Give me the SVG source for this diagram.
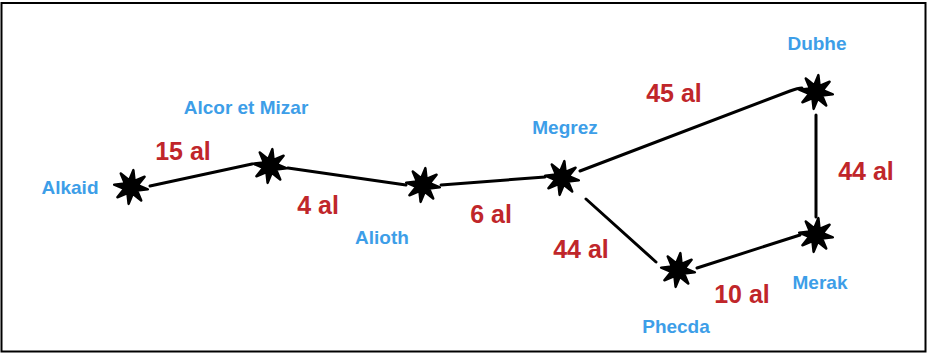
<svg xmlns="http://www.w3.org/2000/svg" xmlns:xlink="http://www.w3.org/1999/xlink" width="927" height="353" viewBox="0 0 927 353">
  <style>
    .name { font-family: "Liberation Sans", Arial, sans-serif; font-weight: bold; font-size: 19px; fill: #3d9ee8; text-anchor: middle; }
    .dist { font-family: "Liberation Sans", Arial, sans-serif; font-weight: bold; font-size: 25px; fill: #c0262a; text-anchor: middle; }
    .edge { stroke: #000; stroke-width: 3; stroke-linecap: round; fill: none; }
    .star { fill: #000; stroke: #000; stroke-width: 2.5; stroke-linejoin: round; }
  </style>
  <defs>
    <path id="star" class="star" d="M17,0 L6.5,2.7 L12.02,12.02 L2.7,6.5 L0,17 L-2.7,6.5 L-12.02,12.02 L-6.5,2.7 L-17,0 L-6.5,-2.7 L-12.02,-12.02 L-2.7,-6.5 L0,-17 L2.7,-6.5 L12.02,-12.02 L6.5,-2.7 Z"/>
  </defs>
  <rect x="0" y="0" width="927" height="353" fill="#fff"/>
  <rect x="1.5" y="3" width="924" height="348.5" fill="none" stroke="#000" stroke-width="2"/>

  <g id="connectors">
    <line class="edge" x1="150" y1="186" x2="252" y2="164"/>
    <line class="edge" x1="288" y1="168" x2="406" y2="185"/>
    <line class="edge" x1="441" y1="185" x2="545" y2="177"/>
    <path class="edge" d="M580,171 L790,91 Q798,88 802,88"/>
    <line class="edge" x1="586" y1="199" x2="656" y2="262"/>
    <line class="edge" x1="697" y1="268" x2="800" y2="235"/>
    <line class="edge" x1="816" y1="115" x2="816" y2="217"/>
    <text class="dist" x="183" y="160">15 al</text>
    <text class="dist" x="318" y="214">4 al</text>
    <text class="dist" x="491" y="223">6 al</text>
    <text class="dist" x="674" y="102">45 al</text>
    <text class="dist" x="581" y="258">44 al</text>
    <text class="dist" x="742" y="303">10 al</text>
    <text class="dist" x="866" y="180">44 al</text>
  </g>

  <g id="alkaid">
    <use xlink:href="#star" href="#star" transform="translate(131,187) rotate(8)"/>
    <text class="name" x="70" y="194">Alkaid</text>
  </g>
  <g id="alcor-mizar">
    <use xlink:href="#star" href="#star" transform="translate(270,166) rotate(8)"/>
    <text class="name" x="246" y="114">Alcor et Mizar</text>
  </g>
  <g id="alioth">
    <use xlink:href="#star" href="#star" transform="translate(423,185) rotate(8)"/>
    <text class="name" x="382" y="244">Alioth</text>
  </g>
  <g id="megrez">
    <use xlink:href="#star" href="#star" transform="translate(562,178) rotate(8)"/>
    <text class="name" x="565" y="134">Megrez</text>
  </g>
  <g id="dubhe">
    <use xlink:href="#star" href="#star" transform="translate(816,92) rotate(8)"/>
    <text class="name" x="817" y="50">Dubhe</text>
  </g>
  <g id="merak">
    <use xlink:href="#star" href="#star" transform="translate(816,235) rotate(8)"/>
    <text class="name" x="820" y="289">Merak</text>
  </g>
  <g id="phecda">
    <use xlink:href="#star" href="#star" transform="translate(678,270) rotate(8)"/>
    <text class="name" x="676" y="333">Phecda</text>
  </g>
</svg>
